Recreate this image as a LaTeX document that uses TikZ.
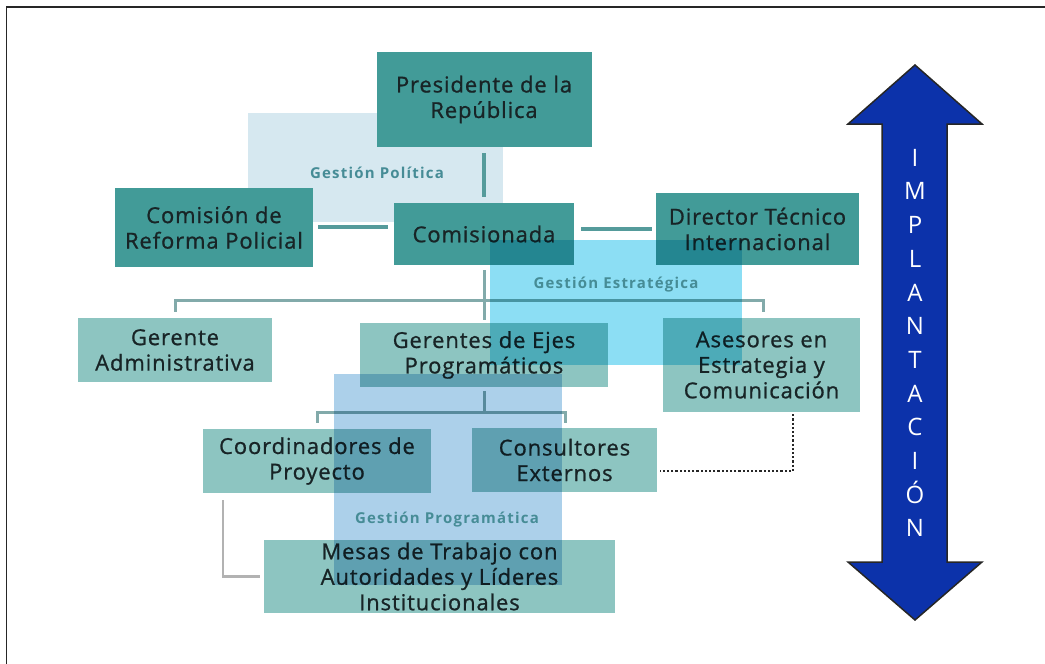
\documentclass[tikz,border=0pt]{standalone}
\usepackage{fontspec}
\setmainfont[LetterSpace=4,FakeBold=0.9]{Open Sans}
\newfontfamily\lblfont[LetterSpace=8]{Open Sans}
\newfontfamily\arrfont{Open Sans}
\usetikzlibrary{calc}
\pgfdeclarelayer{bg}
\pgfdeclarelayer{over}
\pgfsetlayers{bg,main,over}
\definecolor{darkteal}{RGB}{66,155,152}
\definecolor{lightteal}{RGB}{141,197,193}
\definecolor{polblue}{RGB}{214,232,240}
\definecolor{estcyan}{RGB}{140,222,244}
\definecolor{progblue}{RGB}{172,208,234}
\definecolor{txt}{RGB}{24,36,38}
\definecolor{conncol}{RGB}{85,155,155}
\definecolor{treecol}{RGB}{130,170,170}
\definecolor{lblcol}{RGB}{70,140,150}
\definecolor{navy}{RGB}{12,50,170}
\begin{document}
\begin{tikzpicture}[x=1pt,y=-1pt,
  box/.style={rectangle, inner sep=0pt, align=center, text=txt, font=\fontsize{22}{25.5}\selectfont},
  dark/.style={box, fill=darkteal},
  light/.style={box, fill=lightteal},
  conn/.style={draw=conncol, line width=3.5pt},
  tree/.style={draw=treecol, line width=3pt},
  lconn/.style={draw=black!30, line width=2.5pt},
  dotconn/.style={draw=black!85, line width=2.2pt, dotted},
  zone/.style={blend mode=multiply},
  lbl/.style={text=lblcol, inner sep=0pt, font=\lblfont\bfseries\fontsize{15}{17}\selectfont},
  arrowtxt/.style={text=white, inner sep=0pt, align=center, font=\arrfont\fontsize{24}{33.7}\selectfont}
]
\useasboundingbox (0,0) rectangle (1045,664);
% frame
\draw[line width=1.5pt, black!85] (6.5,664) -- (6.5,7) -- (1045,7);

% zone behind
\begin{pgfonlayer}{bg}
  \fill[polblue] (248,113) rectangle (503,222);
\end{pgfonlayer}

% boxes
\node[dark, minimum width=215pt, minimum height=95pt] (pres) at (484,99.5) {Presidente de la\\República};
\node[dark, minimum width=198pt, minimum height=79pt] (comision) at (214,227.5) {Comisión de\\Reforma Policial};
\node[dark, minimum width=180pt, minimum height=62pt] (comisionada) at (484,234) {Comisionada};
\node[dark, minimum width=203pt, minimum height=72pt] (director) at (757.5,229) {Director Técnico\\Internacional};
\node[light, minimum width=194pt, minimum height=64pt] (gadmin) at (175,350) {Gerente\\Administrativa};
\node[light, minimum width=248pt, minimum height=64pt] (gejes) at (484,355) {Gerentes de Ejes\\Programáticos};
\node[light, minimum width=197pt, minimum height=94pt] (asesores) at (761.5,365) {Asesores en\\Estrategia y\\Comunicación};
\node[light, minimum width=228pt, minimum height=64pt] (coord) at (317,461) {Coordinadores de\\Proyecto};
\node[light, minimum width=185pt, minimum height=64pt] (consult) at (564.5,460) {Consultores\\Externos};
\node[light, minimum width=351pt, minimum height=73pt] (mesas) at (439.5,576.5) {Mesas de Trabajo con\\Autoridades y Líderes\\Institucionales};

% connector junctions
\coordinate (bar1) at (484,300);
\coordinate (bar2) at (484,412);

% connectors
\draw[conn, shorten <=6pt, shorten >=6pt] (pres.south) -- (comisionada.north);
\draw[conn, shorten <=5pt, shorten >=6pt] (comision.east |- 0,227) -- (comisionada.west |- 0,227);
\draw[conn, shorten <=7pt, shorten >=4pt] (comisionada.east |- director.west) -- (director.west);
\draw[tree, shorten <=5pt, shorten >=3pt] (comisionada.south) -- (gejes.north);
\draw[tree] ($(gadmin.north)+(0,-6)$) |- (bar1) -| ($(asesores.north)+(1.5,-6)$);
\draw[tree, shorten <=4pt] (gejes.south) -- (bar2);
\draw[tree] ($(coord.north)+(0,-6)$) |- (bar2) -| ($(consult.north)+(0.5,-5)$);
\draw[lconn] ($(coord.south west)+(20,7)$) |- ($(mesas.west)+(-4,0)$);
\draw[dotconn] ($(asesores.south)+(31.5,2)$) |- ($(consult.east)+(3,11)$);

% overlays
\begin{pgfonlayer}{over}
  \begin{scope}[zone]
    \fill[estcyan] (490,240) rectangle (742,365);
    \fill[progblue] (334,374) rectangle (562,585);
  \end{scope}
  \node[lbl] (lpol) at (377,173) {Gestión Política};
  \node[lbl] (lest) at (616,285) {Gestión Estratégica};
  \node[lbl] (lprog) at (447,520) {Gestión Programática};
\end{pgfonlayer}

% implantation arrow
\draw[fill=navy, draw=black!85, line width=1.5pt, line join=miter]
  (915,65) -- (982,124) -- (947,124) -- (947,562) -- (982,562) -- (915,620)
  -- (848,562) -- (882,562) -- (882,124) -- (848,124) -- cycle;
\node[arrowtxt] (impl) at (915,343) {I\\M\\P\\L\\A\\N\\T\\A\\C\\I\\Ó\\N};
\end{tikzpicture}
\end{document}
